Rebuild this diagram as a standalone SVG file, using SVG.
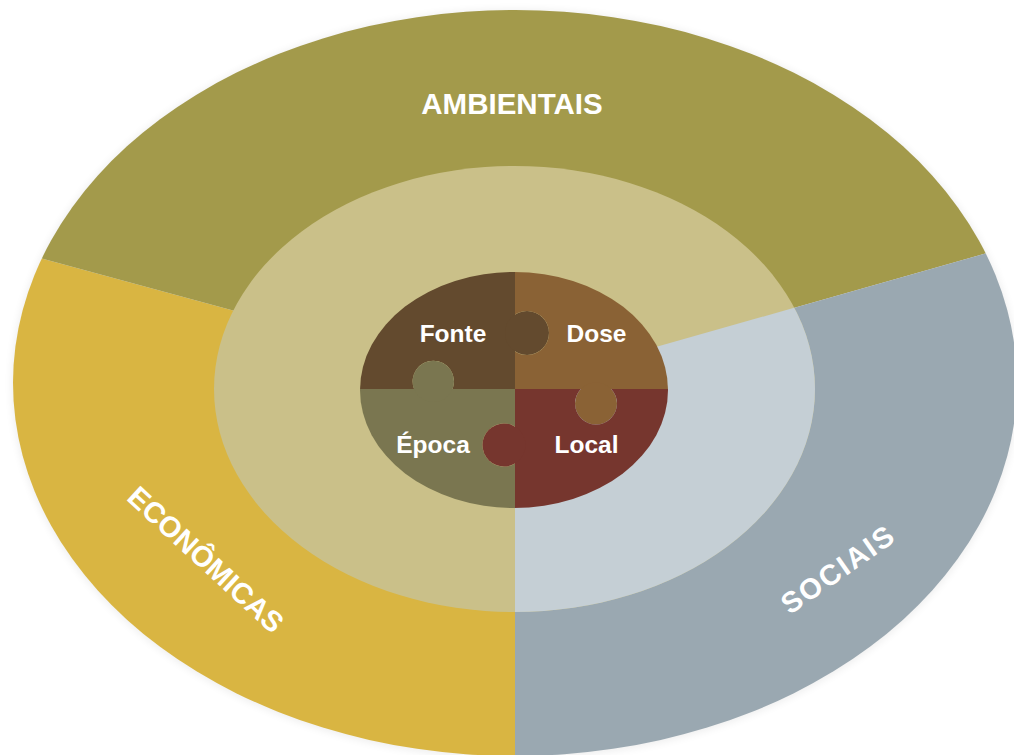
<svg xmlns="http://www.w3.org/2000/svg" width="1014" height="755" viewBox="0 0 1014 755">
  <defs>
    <style>
      .lbl { font-family: "Liberation Sans", Arial, sans-serif; font-weight: bold; fill: #ffffff; text-anchor: middle; }
      .big { font-size: 29.5px; }
      .side { font-size: 29px; }
      .piece { font-size: 24.5px; }
    </style>
    <filter id="glow" x="-10%" y="-10%" width="120%" height="120%">
      <feGaussianBlur stdDeviation="4"/>
    </filter>
    <clipPath id="outerClip"><ellipse cx="515" cy="383" rx="502" ry="373"/></clipPath>
    <clipPath id="midClip"><ellipse cx="514.5" cy="389" rx="300.5" ry="223"/></clipPath>
    <clipPath id="innerClip"><ellipse cx="514" cy="390" rx="154" ry="118"/></clipPath>
  </defs>
  <rect width="1014" height="755" fill="#ffffff"/>
  <ellipse cx="515" cy="384" rx="503" ry="374" fill="#000000" opacity="0.07" filter="url(#glow)"/>

  <g clip-path="url(#outerClip)">
    <g id="economicas">
      <polygon points="515,387 -100,220 -100,800 515,800" fill="#D9B542"/>
    </g>
    <g id="ambientais">
      <polygon points="515,387 -100,220 -100,-10 1100,-10 1100,221" fill="#A39A4B"/>
    </g>
    <g id="sociais">
      <polygon points="515,387 1100,221 1100,800 515,800" fill="#9AA8B1"/>
    </g>
  </g>

  <g id="middle-ring">
    <ellipse cx="514.5" cy="389" rx="300.5" ry="223" fill="#CAC089"/>
    <polygon clip-path="url(#midClip)" points="515,387 1100,221 1100,800 515,800" fill="#C5CFD5"/>
  </g>

  <g clip-path="url(#innerClip)">
    <g id="fonte">
      <path d="M350,260 H515 V389 H452.55 A20.7,20.7 0 1 0 414.05,389 H350 Z" fill="#634A2E"/>
      <circle cx="527" cy="333" r="22" fill="#634A2E"/>
    </g>
    <g id="dose">
      <path d="M515,260 H680 V389 H515 V351.44 A22,22 0 1 0 515,314.56 Z" fill="#8A6235"/>
      <circle cx="596" cy="403.5" r="21" fill="#8A6235"/>
    </g>
    <g id="epoca">
      <path d="M350,389 H515 V426.53 A21.5,21.5 0 1 0 515,463.47 V519 H350 Z" fill="#7A7650"/>
      <circle cx="433.3" cy="381.4" r="20.7" fill="#7A7650"/>
    </g>
    <g id="local">
      <path d="M515,389 H580.81 A21,21 0 1 0 611.19,389 H680 V519 H515 Z" fill="#76362E"/>
      <circle cx="504" cy="445" r="21.5" fill="#76362E"/>
    </g>
  </g>

  <g id="labels">
    <text class="lbl big" x="512" y="114">AMBIENTAIS</text>
    <text class="lbl side" transform="translate(199,567) rotate(42.6)" textLength="200" lengthAdjust="spacing">ECONÔMICAS</text>
    <text class="lbl side" transform="translate(843,578) rotate(-35)" textLength="130" lengthAdjust="spacing">SOCIAIS</text>
    <text class="lbl piece" x="453" y="342">Fonte</text>
    <text class="lbl piece" x="596.5" y="342">Dose</text>
    <text class="lbl piece" x="433" y="453">Época</text>
    <text class="lbl piece" x="586.5" y="453">Local</text>
  </g>
</svg>
